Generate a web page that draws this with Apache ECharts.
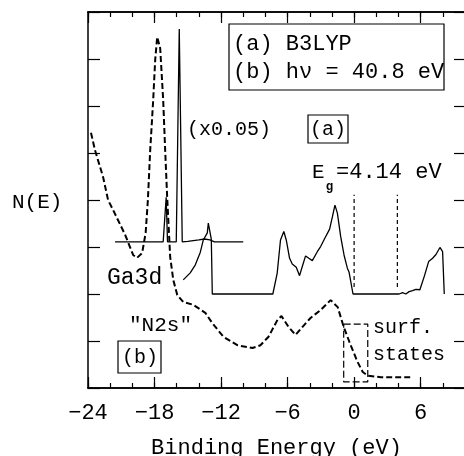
<!DOCTYPE html>
<html>
<head>
<meta charset="utf-8">
<script src="https://cdn.jsdelivr.net/npm/echarts@6/dist/echarts.min.js"></script>
<style>
  html, body { margin: 0; padding: 0; background: #fff; }
  #chart { width: 464px; height: 456px; }
</style>
</head>
<body>
<div id="chart"></div>
<script>
// axis ranges / ticks
var xRange = [-24, 10];
var yRange = [0, 8];
var xMajor = 6, xMinor = 2, yStep = 1;

// Ga3d peak, scaled (x0.05)
var ga3dScaled = [
    [-21.56, 3.11], [-17.22, 3.11], [-16.95, 4.06], [-16.83, 3.11], [-16.04, 3.11],
    [-15.77, 7.64], [-15.50, 3.11], [-15.0, 3.12], [-14.0, 3.15], [-13.5, 3.17],
    [-13.0, 3.15], [-12.6, 3.11], [-10.0, 3.11]
];

// (a) B3LYP DOS
var curveA = [
    [-15.41, 2.30], [-14.78, 2.45], [-14.32, 2.62], [-13.87, 2.89], [-13.60, 3.15],
    [-13.24, 3.30], [-13.15, 3.51], [-12.97, 3.55], [-12.88, 3.17], [-12.79, 2.00],
    [-7.33, 2.00], [-6.94, 2.44], [-6.64, 3.15], [-6.34, 3.33], [-6.12, 3.15],
    [-5.82, 2.76], [-5.58, 2.64], [-5.22, 2.57], [-4.92, 2.39], [-4.68, 2.58],
    [-4.38, 2.81], [-4.08, 2.76], [-3.77, 2.71], [-3.32, 2.90], [-3.02, 3.01],
    [-2.63, 3.19], [-2.21, 3.38], [-1.96, 3.64], [-1.73, 3.89], [-1.51, 3.72],
    [-1.21, 3.22], [-0.91, 2.83], [-0.61, 2.55], [-0.46, 2.47], [-0.10, 2.00],
    [4.06, 2.00], [4.37, 2.03], [4.66, 2.00], [4.96, 2.05], [5.27, 2.07],
    [5.57, 2.10], [5.93, 2.09], [6.32, 2.37], [6.72, 2.69], [7.08, 2.76],
    [7.38, 2.84], [7.74, 2.99], [7.98, 2.90], [8.13, 2.00]
];

// (b) photoemission, hv = 40.8 eV
var curveB = [
    [-23.73, 5.43], [-23.37, 5.06], [-22.64, 4.49], [-22.19, 4.00], [-21.74, 3.79],
    [-20.65, 3.26], [-19.93, 2.83], [-19.57, 2.77], [-19.12, 2.87], [-18.80, 3.30],
    [-18.60, 4.00], [-18.39, 5.06], [-18.12, 6.13], [-17.94, 6.98], [-17.76, 7.47],
    [-17.49, 7.23], [-17.22, 6.13], [-17.04, 5.06], [-16.86, 4.06], [-16.59, 2.79],
    [-16.31, 2.30], [-15.95, 1.98], [-15.41, 1.83], [-14.51, 1.77], [-13.42, 1.60],
    [-12.79, 1.38], [-11.79, 1.09], [-10.53, 0.91], [-9.17, 0.85], [-8.45, 0.91],
    [-7.72, 1.09], [-6.91, 1.45], [-6.55, 1.53], [-5.92, 1.30], [-5.28, 1.13],
    [-4.65, 1.30], [-3.93, 1.49], [-3.02, 1.66], [-2.12, 1.87], [-1.94, 1.89],
    [-1.48, 1.72], [-0.94, 1.30], [-0.31, 0.91], [0.32, 0.55], [0.78, 0.34],
    [1.23, 0.26], [2.40, 0.23], [5.30, 0.23]
];

// band edges (VBM, CBM) and the dashed guide heights
var gapLines = [0, 3.9];
var gapLineY = [2.15, 4.11];

// surface states box
var surfBox = [[-0.94, 1.36], [1.23, 1.36], [1.23, 0.13], [-0.94, 0.13], [-0.94, 1.36]];

var FONT = 'Liberation Mono';

function xAx(pos, step, len, labels) {
    return {
        type: 'value', position: pos, min: xRange[0], max: xRange[1], interval: step,
        axisLine: { show: true, onZero: false, lineStyle: { color: '#000', width: 1.5 } },
        axisTick: { show: true, inside: true, length: len, lineStyle: { color: '#000', width: 1.2 } },
        axisLabel: labels ? {
            show: true, margin: 14, color: '#000', fontFamily: FONT, fontSize: 22,
            formatter: function (v) {
                if (v > 6) return '';
                return v < 0 ? '\u2212' + (-v) : String(v);
            }
        } : { show: false },
        splitLine: { show: false },
        name: labels ? 'Binding Energy (eV)' : '',
        nameLocation: 'middle', nameGap: 49,
        nameTextStyle: { color: '#000', fontFamily: FONT, fontSize: 22 }
    };
}
function yAx(pos, len) {
    return {
        type: 'value', position: pos, min: yRange[0], max: yRange[1], interval: yStep,
        axisLine: { show: true, onZero: false, lineStyle: { color: '#000', width: 1.5 } },
        axisTick: { show: true, inside: true, length: len, lineStyle: { color: '#000', width: 1.2 } },
        axisLabel: { show: false },
        splitLine: { show: false }
    };
}

function lineSeries(data, width, dash) {
    return {
        type: 'line', data: data, symbol: 'none', silent: true,
        lineStyle: { color: '#000', width: width, type: dash || 'solid' },
        z: 3
    };
}

var series = [
    lineSeries(ga3dScaled, 1.3),
    lineSeries(curveA, 1.3),
    lineSeries(curveB, 2, [6, 3]),
    lineSeries(surfBox, 1.2, [7, 3])
];
for (var i = 0; i < gapLines.length; i++) {
    series.push(lineSeries([[gapLines[i], gapLineY[0]], [gapLines[i], gapLineY[1]]], 1.2, [4, 3]));
}

function txt(x, y, s, size, extra) {
    var o = {
        type: 'text', x: x, y: y,
        style: { text: s, fill: '#000', font: (size || 21) + 'px "' + FONT + '"', textVerticalAlign: 'middle' }
    };
    if (extra) for (var k in extra) o.style[k] = extra[k];
    return o;
}
function box(x, y, w, h) {
    return { type: 'rect', shape: { x: x, y: y, width: w, height: h },
        style: { fill: '#fff', stroke: '#000', lineWidth: 1.2 }, z: 10 };
}

var chart = echarts.init(document.getElementById('chart'), null, { renderer: 'canvas' });
chart.setOption({
    animation: false,
    backgroundColor: '#fff',
    grid: { left: 88, top: 12, width: 377, height: 376, containLabel: false, outerBoundsMode: 'none' },
    xAxis: [
        xAx('bottom', xMajor, 11, true),
        xAx('bottom', xMinor, 5, false),
        xAx('top', xMajor, 11, false),
        xAx('top', xMinor, 5, false)
    ],
    yAxis: [yAx('left', 12), yAx('right', 11)],
    series: series,
    graphic: [
        box(229, 24, 215, 66),
        txt(233, 44, '(a) B3LYP', 22, null),
        txt(233, 72, '(b) h\u03bd = 40.8 eV', 22, null),
        txt(187, 130, '(x0.05)', 20),
        box(308, 115, 40, 28),
        txt(328, 130, '(a)', 20, { textAlign: 'center' }),
        txt(312, 172, 'E', 21),
        txt(326, 187, 'g', 17, { fontWeight: 'bold' }),
        txt(336, 172, '=4.14 eV', 22),
        txt(12, 202, 'N(E)', 21),
        txt(107, 278, 'Ga3d', 23),
        txt(129, 325, '"N2s"', 21),
        box(118, 341, 43, 32),
        txt(140, 358, '(b)', 20, { textAlign: 'center' }),
        txt(373, 328, 'surf.', 20),
        txt(373, 355, 'states', 20)
    ].map(function (g) { if (g.z === undefined) g.z = 11; return g; })
});
</script>
</body>
</html>
